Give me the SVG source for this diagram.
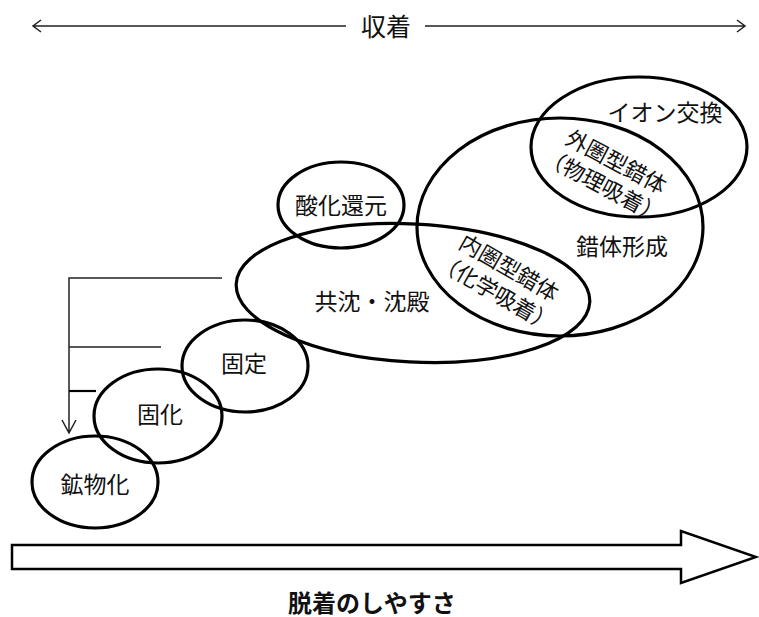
<svg xmlns="http://www.w3.org/2000/svg" width="759" height="617" viewBox="0 0 759 617">
<style>
.e{fill:none;stroke:#000;stroke-width:3.2}
.t{font-family:"Noto Sans CJK JP","Noto Sans",sans-serif;font-size:23px;fill:#111;text-anchor:middle;dominant-baseline:central}
.r{font-size:22px}
.ln{fill:none;stroke:#222;stroke-width:1.5}
</style>
<rect width="759" height="617" fill="#fff"/>
<g id="sorption">
<path class="ln" d="M33 26H346M425 26H745M41 20L33 26L41 32M737 20L745 26L737 32"/>
<text class="t" x="386" y="25" style="font-size:25px">収着</text>
</g>
<g id="ion-exchange">
<ellipse class="e" cx="639" cy="147" rx="108" ry="70"/>
<text class="t" x="665" y="111">イオン交換</text>
</g>
<g id="complex">
<ellipse class="e" cx="560" cy="227" rx="143" ry="109"/>
<text class="t" x="622" y="245">錯体形成</text>
</g>
<g id="outer-complex">
<text class="t r" transform="translate(617,160) rotate(28)">外圏型錯体</text>
<text class="t r" transform="translate(604,184) rotate(28)">（物理吸着）</text>
</g>
<g id="redox">
<ellipse class="e" cx="341" cy="205" rx="63" ry="43"/>
<text class="t" x="341" y="204">酸化還元</text>
</g>
<g id="coprecipitation">
<ellipse class="e" cx="413" cy="293" rx="177" ry="69" transform="rotate(3 413 293)"/>
<text class="t" x="372" y="300">共沈・沈殿</text>
</g>
<g id="inner-complex">
<text class="t r" transform="translate(510,266) rotate(30)">内圏型錯体</text>
<text class="t r" transform="translate(497,291) rotate(30)">（化学吸着）</text>
</g>
<g id="fixation">
<ellipse class="e" cx="245" cy="366" rx="63" ry="46"/>
<text class="t" x="244" y="362">固定</text>
</g>
<g id="solidification">
<ellipse class="e" cx="158" cy="416" rx="64" ry="47"/>
<text class="t" x="160" y="413">固化</text>
</g>
<g id="mineralization">
<ellipse class="e" cx="95" cy="482" rx="63" ry="46"/>
<text class="t" x="95" y="483">鉱物化</text>
</g>
<g id="connectors">
<path class="ln" d="M222 278H69V433M69 347H161M62 420L69 433L76 420"/>
<path d="M69 391H96" stroke="#000" stroke-width="2.2"/>
</g>
<g id="desorption">
<path d="M12 545H681V531L756 557L681 583V569H12Z" fill="#fff" stroke="#000" stroke-width="2.5" stroke-linejoin="miter"/>
<text class="t" x="372" y="601" style="font-weight:bold;font-size:24px">脱着のしやすさ</text>
</g>
</svg>
